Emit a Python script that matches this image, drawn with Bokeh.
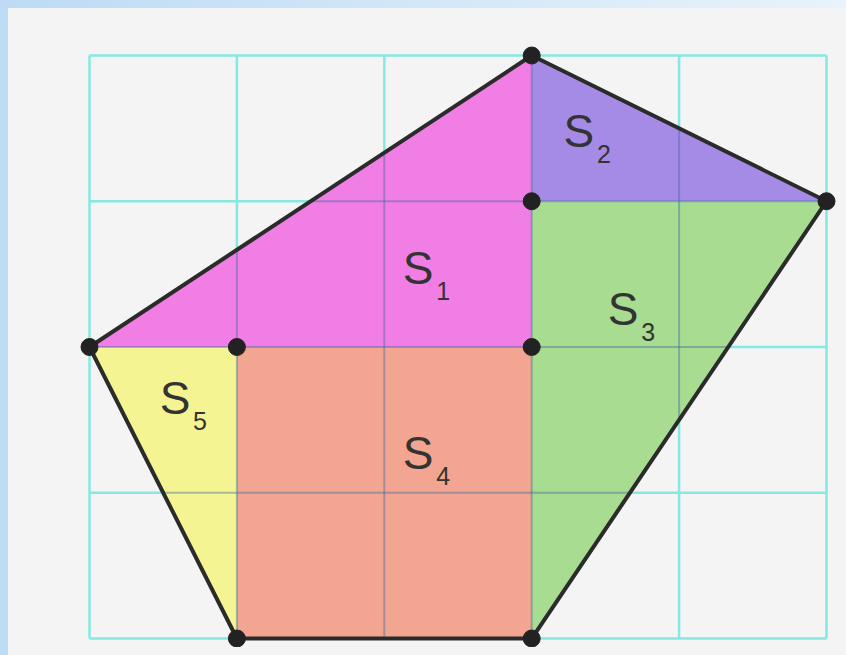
from bokeh.plotting import figure
from bokeh.embed import file_html
from bokeh.resources import INLINE
from bokeh.core.properties import value

# ---- data ----
grid_cols = [0, 1, 2, 3, 4, 5]
grid_rows = [0, 1, 2, 3, 4]

outline_x = [0, 3, 5, 3, 1]
outline_y = [2, 4, 3, 0, 0]

region_names = ["S1", "S2", "S3", "S4", "S5"]
region_xs = [[0, 3, 3], [3, 5, 3], [3, 5, 3], [1, 3, 3, 1], [0, 1, 1]]
region_ys = [[2, 4, 2], [4, 3, 3], [3, 3, 0], [0, 0, 2, 2], [2, 2, 0]]
region_colors = ["#f07ee4", "#a68be6", "#a7dc91", "#f2a591", "#f5f493"]

dot_x = [0, 3, 5, 3, 1, 1, 3, 3]
dot_y = [2, 4, 3, 0, 0, 2, 3, 2]

label_main = ["S", "S", "S", "S", "S"]
label_sub = ["1", "2", "3", "4", "5"]
label_x = [2.23, 3.32, 3.62, 2.23, 0.58]
label_y = [2.54, 3.48, 2.26, 1.27, 1.65]

# ---- figure ----
p = figure(width=830, height=639, output_backend="svg", toolbar_location=None,
           x_range=(-0.5495, 5.0814), y_range=(-0.0617, 4.3225),
           min_border=0, background_fill_color="#f3f4f3",
           border_fill_color="#f3f4f3", outline_line_color=None)
p.axis.visible = False
p.grid.visible = False

x0, x1 = min(grid_cols), max(grid_cols)
y0, y1 = min(grid_rows), max(grid_rows)

# full cyan grid
p.segment(x0=grid_cols, y0=[y0] * len(grid_cols), x1=grid_cols, y1=[y1] * len(grid_cols),
          line_color="#86e9e1", line_width=2.5)
p.segment(x0=[x0] * len(grid_rows), y0=grid_rows, x1=[x1] * len(grid_rows), y1=grid_rows,
          line_color="#86e9e1", line_width=2.5)

# coloured regions
p.patches(xs=region_xs, ys=region_ys, fill_color=region_colors, line_color=None)


# grid lines seen through the colours (clipped to the polygon)
def clip(k, vertical):
    pts = []
    n = len(outline_x)
    for i in range(n):
        ax, ay = outline_x[i], outline_y[i]
        bx, by = outline_x[(i + 1) % n], outline_y[(i + 1) % n]
        if not vertical:
            ax, ay, bx, by = ay, ax, by, bx
        if ax == bx:
            if ax == k:
                pts += [ay, by]
        elif min(ax, bx) <= k <= max(ax, bx):
            pts.append(ay + (k - ax) * (by - ay) / (bx - ax))
    if len(pts) < 2 or max(pts) - min(pts) < 1e-6:
        return None
    return min(pts), max(pts)


sx0, sy0, sx1, sy1 = [], [], [], []
for c in grid_cols:
    r = clip(c, True)
    if r:
        sx0.append(c); sx1.append(c); sy0.append(r[0]); sy1.append(r[1])
for rr in grid_rows:
    r = clip(rr, False)
    if r:
        sy0.append(rr); sy1.append(rr); sx0.append(r[0]); sx1.append(r[1])
p.segment(x0=sx0, y0=sy0, x1=sx1, y1=sy1, line_color="#3c6aa0", line_alpha=0.42, line_width=2)

# outline
p.patch(x=outline_x, y=outline_y, fill_color=None, line_color="#2b2b2b", line_width=4,
        line_join="round")

# vertices
p.scatter(x=dot_x, y=dot_y, size=17, color="#222222")

# labels
p.text(x=label_x, y=label_y, text=label_main, text_font=value("Liberation Sans"),
       text_font_size="46px", text_color="#333333", text_align="center",
       text_baseline="middle")
p.text(x=label_x, y=label_y, text=label_sub, text_font=value("Liberation Sans"),
       text_font_size="25px", text_color="#333333", text_align="center",
       text_baseline="middle", x_offset=25, y_offset=23)

html = file_html(p, INLINE)
style = ("<style>html,body{margin:0;padding:0;}body{margin:8px;"
         "background:linear-gradient(to right,#bddbf5,#e8f3fb) top left/100% 8px no-repeat,"
         "linear-gradient(to right,#bedcf5 8px,#f3f4f3 8px);}</style>")
html = html.replace("</head>", style + "</head>", 1)
open("out.html", "w").write(html)
